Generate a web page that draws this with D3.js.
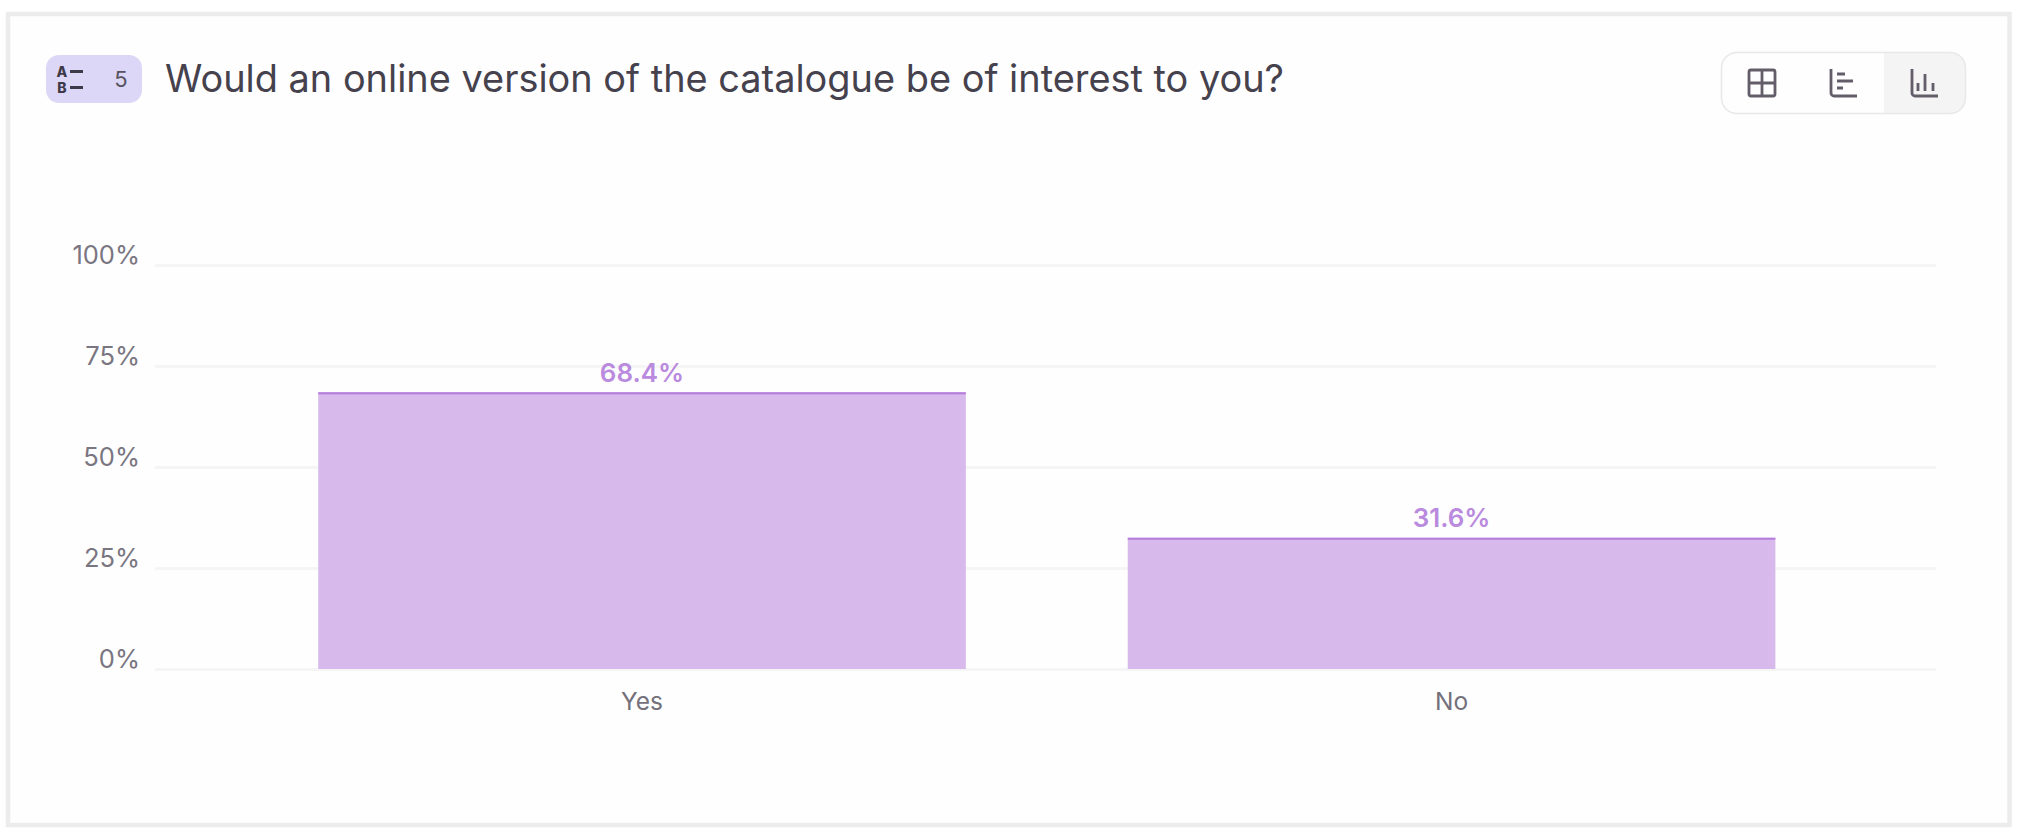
<!DOCTYPE html>
<html>
<head>
<meta charset="utf-8">
<script src="https://cdn.jsdelivr.net/npm/d3@7"></script>
<style>
html,body{margin:0;padding:0;background:#fff;}
svg{display:block;}
text{font-family:Inter,"Noto Sans",sans-serif;}
</style>
</head>
<body>
<svg id="chart" width="2020" height="838"></svg>
<script>
// Data
const categories = ["Yes", "No"];
const shareLabels = ["68.4%", "31.6%"];      // printed labels
const barHeights = [68.4, 32.4];             // drawn bar tops as measured against the gridlines
const yTicks = [0, 25, 50, 75, 100];
const titleText = "Would an online version of the catalogue be of interest to you?";
const questionNumber = "5";

const svg = d3.select("#chart");

// Card
svg.append("rect").attr("x", 8).attr("y", 14).attr("width", 2001.5).attr("height", 811)
  .attr("fill", "#fefefe").attr("stroke", "#ececec").attr("stroke-width", 4.5);

// Question badge
const badge = svg.append("g");
badge.append("rect").attr("x", 46).attr("y", 55).attr("width", 96).attr("height", 48).attr("rx", 13)
  .attr("fill", "#dcd7f7");
badge.append("text").attr("x", 62).attr("y", 76.5).attr("text-anchor", "middle")
  .attr("font-size", 14).attr("font-weight", 800).attr("fill", "#3f3a4a").text("A");
badge.append("text").attr("x", 62).attr("y", 92.5).attr("text-anchor", "middle")
  .attr("font-size", 14).attr("font-weight", 800).attr("fill", "#3f3a4a").text("B");
badge.append("path").attr("d", "M70 71.5H83M70 87.5H83")
  .attr("stroke", "#3f3a4a").attr("stroke-width", 2.8).attr("fill", "none");
badge.append("text").attr("x", 121).attr("y", 87).attr("text-anchor", "middle")
  .attr("font-size", 22).attr("fill", "#57535e").text(questionNumber);

// Title
svg.append("text").attr("x", 165).attr("y", 92)
  .attr("font-size", 37.9).attr("fill", "#45414d").text(titleText);

// View switcher
const sw = svg.append("g");
sw.append("path").attr("d", "M1884 52.5H1950a15.5 15.5 0 0 1 15.5 15.5V98a15.5 15.5 0 0 1 -15.5 15.5H1884Z")
  .attr("fill", "#f4f4f5");
sw.append("rect").attr("x", 1721.5).attr("y", 52.5).attr("width", 244).attr("height", 61).attr("rx", 15.5)
  .attr("fill", "none").attr("stroke", "#e8e8ea").attr("stroke-width", 1.5);
const iconStroke = "#625d69";
sw.append("path")
  .attr("d", "M1751 70H1773a2 2 0 0 1 2 2V94a2 2 0 0 1 -2 2H1751a2 2 0 0 1 -2 -2V72a2 2 0 0 1 2 -2ZM1762 70V96M1749 83H1775")
  .attr("fill", "none").attr("stroke", iconStroke).attr("stroke-width", 2.8);
sw.append("path")
  .attr("d", "M1831 69V93a3 3 0 0 0 3 3H1857M1837 74H1845M1837 81H1853M1837 88H1843")
  .attr("fill", "none").attr("stroke", iconStroke).attr("stroke-width", 2.8);
sw.append("path")
  .attr("d", "M1912 69V93a3 3 0 0 0 3 3H1938M1918 83V91M1925 74V91M1933 83V91")
  .attr("fill", "none").attr("stroke", iconStroke).attr("stroke-width", 2.8);

// Scales
const x = d3.scaleBand().domain(categories).range([155, 1936]).padding(0.2).align(0.504);
const y = d3.scaleLinear().domain([0, 100]).range([669, 265]);

// Y axis
const yAxis = d3.axisLeft(y).tickValues(yTicks).tickFormat(d => d + "%")
  .tickSize(-(x.range()[1] - x.range()[0])).tickPadding(15);
const gy = svg.append("g").attr("transform", `translate(${x.range()[0]},0)`).call(yAxis);
gy.select(".domain").remove();
gy.selectAll(".tick line").attr("stroke", "#f5f5f6").attr("stroke-width", 3);
gy.selectAll(".tick text").attr("font-size", 25.5).attr("fill", "#7a7681")
  .attr("dy", "-0.04em").style("font-family", "Inter,sans-serif");

// Bars
const rows = categories.map((c, i) => ({ c, h: barHeights[i], label: shareLabels[i] }));
const bars = svg.append("g").selectAll("g").data(rows).join("g");
bars.append("rect")
  .attr("x", d => x(d.c)).attr("width", x.bandwidth())
  .attr("y", d => y(d.h)).attr("height", d => y(0) - y(d.h))
  .attr("fill", "#d8b9eb");
bars.append("rect")
  .attr("x", d => x(d.c)).attr("width", x.bandwidth())
  .attr("y", d => y(d.h) - 0.5).attr("height", 2.2)
  .attr("fill", "#b57fdc");
bars.append("text")
  .attr("x", d => x(d.c) + x.bandwidth() / 2)
  .attr("y", d => y(d.h) - 11)
  .attr("text-anchor", "middle").attr("font-size", 26).attr("font-weight", 600)
  .attr("fill", "#b98ade").text(d => d.label);

// X axis
const xAxis = d3.axisBottom(x).tickSize(0).tickPadding(24);
const gx = svg.append("g").attr("transform", `translate(0,${y(0)})`).call(xAxis);
gx.select(".domain").remove();
gx.selectAll(".tick text").attr("font-size", 24.5).attr("fill", "#74707b")
  .style("font-family", "Inter,sans-serif");
</script>
</body>
</html>
